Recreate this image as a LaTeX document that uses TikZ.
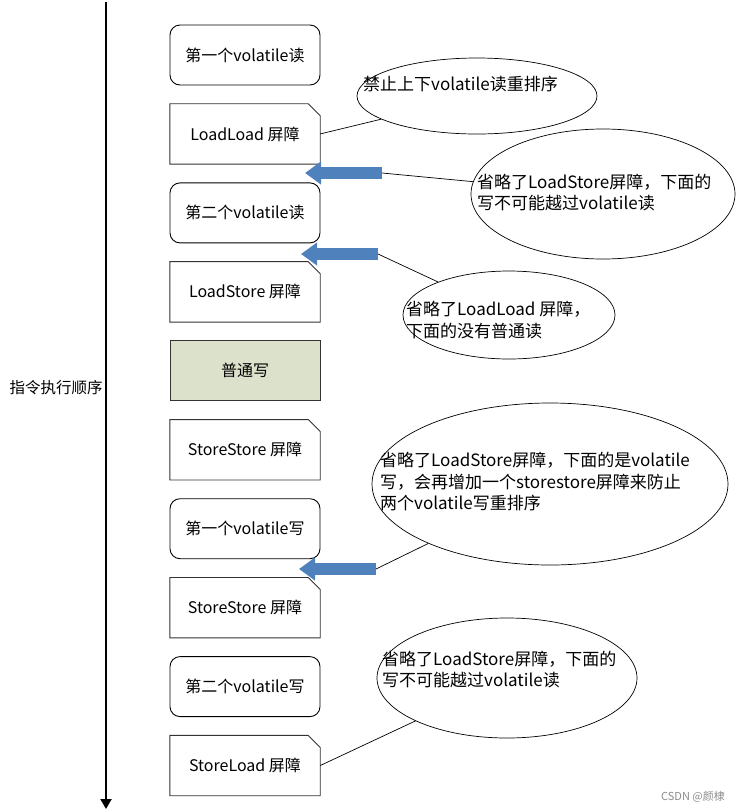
\documentclass[tikz,border=0pt]{standalone}
\usepackage{fontspec}
\setmainfont{Noto Sans CJK SC}
\usepackage{tikz}
\usetikzlibrary{arrows.meta, positioning, shapes.geometric}
\usepackage{xcolor}
\definecolor{barblue}{HTML}{4F81BD}
\definecolor{plainfill}{HTML}{DCE1CB}

\begin{document}
\begin{tikzpicture}[
    x=1pt, y=-1pt,
    node distance=18.3pt,
    box/.style={minimum width=150pt, minimum height=60pt, inner sep=0pt, font=\fontsize{16}{19}\selectfont},
    rbox/.style={box, draw, line width=0.9pt, rounded corners=10pt},
    sbox/.style={box, append after command={\pgfextra{\draw[line width=0.9pt, draw=black!80]
        (\tikzlastnode.south west) -- (\tikzlastnode.north west) -- ([xshift=-12pt]\tikzlastnode.north east)
        -- ([yshift=-12pt]\tikzlastnode.north east) -- (\tikzlastnode.south east) -- cycle;}}},
    pbox/.style={box, draw=black!80, line width=0.9pt, fill=plainfill},
    note/.style={draw, ellipse, line width=0.7pt, inner sep=0pt},
    notetext/.style={anchor=west, align=left, inner sep=0pt, font=\fontsize{17}{21.5}\selectfont},
    link/.style={line width=0.7pt},
    barrow/.style={draw=barblue, line width=12pt, -{Triangle[length=16pt, width=22pt]}},
    axis/.style={line width=2pt, -{Triangle[length=10pt, width=11pt]}}
]
\useasboundingbox (0,0) rectangle (741,812);

% time axis
\coordinate (axtop) at (106,2);
\coordinate (axbot) at (106,809);
\draw[axis] (axtop) -- (axbot);
\node[font=\fontsize{15.5}{18}\selectfont] (order) at (56,388) {指令执行顺序};

% instruction column
\node[rbox] (read1) at (245,55) {第一个volatile读};
\node[sbox, below=of read1] (ldld) {LoadLoad 屏障};
\node[rbox, below=of ldld] (read2) {第二个volatile读};
\node[sbox, below=of read2] (ldst) {LoadStore 屏障};
\node[pbox, below=of ldst] (write) {普通写};
\node[sbox, below=of write] (stst1) {StoreStore 屏障};
\node[rbox, below=of stst1] (vwrite1) {第一个volatile写};
\node[sbox, below=of vwrite1] (stst2) {StoreStore 屏障};
\node[rbox, below=of stst2] (vwrite2) {第二个volatile写};
\node[sbox, below=of vwrite2] (stld) {StoreLoad 屏障};

% blue arrows
\coordinate (a1s) at (382,173); \coordinate (a1e) at (305,173);
\coordinate (a2s) at (378,254); \coordinate (a2e) at (301,254);
\coordinate (a3s) at (376,569); \coordinate (a3e) at (299,569);
\draw[barrow] (a1s) -- (a1e);
\draw[barrow] (a2s) -- (a2e);
\draw[barrow] (a3s) -- (a3e);

% notes
\node[note, minimum width=240pt, minimum height=76pt] (e1) at (477,96) {};
\node[notetext] (t1) at (363,84) {禁止上下volatile读重排序};
\node[note, minimum width=264pt, minimum height=130pt] (e2) at (603,194) {};
\node[notetext] (t2) at (477,192.5) {省略了LoadStore屏障，下面的\\写不可能越过volatile读};
\node[note, minimum width=212pt, minimum height=88pt] (e3) at (509,315) {};
\node[notetext] (t3) at (406,320) {省略了LoadLoad 屏障，\\下面的没有普通读};
\node[note, minimum width=356pt, minimum height=162pt] (e4) at (550,484) {};
\node[notetext] (t4) at (380,482) {省略了LoadStore屏障，下面的是volatile\\写，会再增加一个storestore屏障来防止\\两个volatile写重排序};
\node[note, minimum width=260pt, minimum height=120pt] (e5) at (507,678) {};
\node[notetext] (t5) at (382,669.5) {省略了LoadStore屏障，下面的\\写不可能越过volatile读};

\draw[link] (ldld.east) -- (e1);
\draw[link] (a1s) -- (e2);
\draw[link] (a2s) -- (e3);
\draw[link] (a3s) -- (e4);
\draw[link] (stld.east) -- (e5);

\node[text=black!45, font=\fontsize{11}{13}\selectfont] (mark) at (693,797) {CSDN @颜棣};
\end{tikzpicture}
\end{document}
